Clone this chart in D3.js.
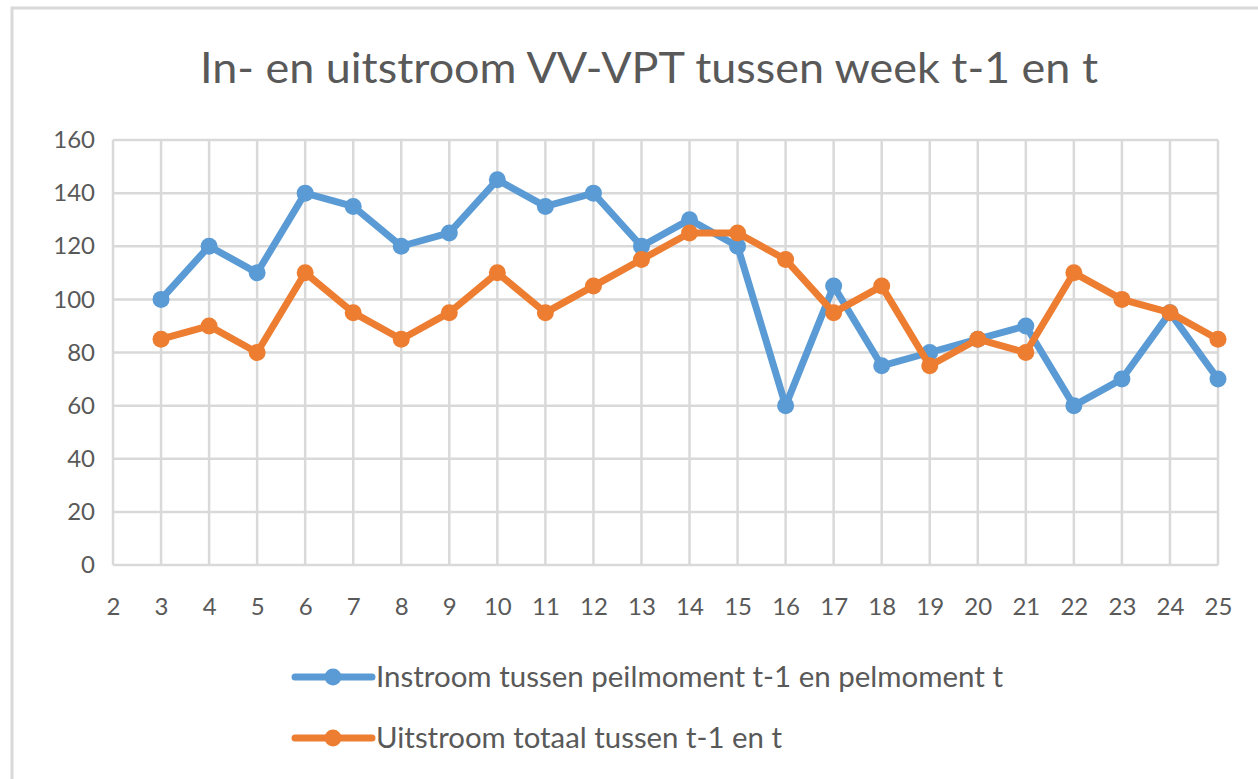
<!DOCTYPE html>
<html><head><meta charset="utf-8">
<script src="https://cdn.jsdelivr.net/npm/d3@7"></script>
<style>html,body{margin:0;padding:0;background:#fff;}svg{display:block;}</style>
</head><body>
<script>
const title = "In- en uitstroom VV-VPT tussen week t-1 en t";
const weeks = [2,3,4,5,6,7,8,9,10,11,12,13,14,15,16,17,18,19,20,21,22,23,24,25];
const dataWeeks = [3,4,5,6,7,8,9,10,11,12,13,14,15,16,17,18,19,20,21,22,23,24,25];
const instroom = [100,120,110,140,135,120,125,145,135,140,120,130,120,60,105,75,80,85,90,60,70,95,70];
const uitstroom = [85,90,80,110,95,85,95,110,95,105,115,125,125,115,95,105,75,85,80,110,100,95,85];
const yTicks = [0,20,40,60,80,100,120,140,160];
const seriesNames = ["Instroom tussen peilmoment t-1 en pelmoment t","Uitstroom totaal tussen t-1 en t"];
const colors = ["#5B9BD5","#ED7D31"];

const W=1258,H=779;
const svg=d3.select("body").append("svg").attr("width",W).attr("height",H);
const font="Lato, 'Open Sans', sans-serif";
svg.append("rect").attr("x",12).attr("y",8).attr("width",W).attr("height",H).attr("fill","#fff").attr("stroke","#d9d9d9").attr("stroke-width",3);

const x=d3.scalePoint().domain(weeks).range([113,1218]);
const y=d3.scaleLinear().domain([0,160]).range([565,140]);

svg.append("text").attr("x",649).attr("y",83).attr("text-anchor","middle")
  .attr("font-family",font).attr("font-size",42).attr("fill","#595959")
  .attr("textLength",898).attr("lengthAdjust","spacingAndGlyphs").text(title);

const g=svg.append("g");
g.selectAll(".hg").data(yTicks).join("line").attr("x1",113).attr("x2",1218)
  .attr("y1",d=>y(d)).attr("y2",d=>y(d)).attr("stroke","#d9d9d9").attr("stroke-width",2.5);
g.selectAll(".vg").data(weeks).join("line").attr("y1",y(0)).attr("y2",y(160))
  .attr("x1",d=>x(d)).attr("x2",d=>x(d)).attr("stroke","#d9d9d9").attr("stroke-width",2.5);

const yAxis=d3.axisLeft(y).tickValues(yTicks).tickSize(0).tickPadding(18);
const ya=svg.append("g").attr("transform","translate(113,0)").call(yAxis);
ya.select(".domain").remove();
ya.selectAll("text").attr("font-family",font).attr("font-size",24).attr("fill","#595959");
const xAxis=d3.axisBottom(x).tickSize(0).tickPadding(33);
const xa=svg.append("g").attr("transform","translate(0,565)").call(xAxis);
xa.select(".domain").remove();
xa.selectAll("text").attr("font-family",font).attr("font-size",24).attr("fill","#595959");

const series=[instroom,uitstroom];
const line=d3.line().x((d,i)=>x(dataWeeks[i])).y(d=>y(d));
series.forEach((s,k)=>{
  svg.append("path").datum(s).attr("d",line).attr("fill","none").attr("stroke",colors[k])
    .attr("stroke-width",7).attr("stroke-linejoin","round");
  svg.selectAll(".m"+k).data(s).join("circle").attr("cx",(d,i)=>x(dataWeeks[i])).attr("cy",d=>y(d))
    .attr("r",8.5).attr("fill",colors[k]);
});

const legY=[677,738];
const legLen=[627,406];
seriesNames.forEach((n,k)=>{
  svg.append("line").attr("x1",295).attr("x2",372).attr("y1",legY[k]).attr("y2",legY[k])
    .attr("stroke",colors[k]).attr("stroke-width",7).attr("stroke-linecap","round");
  svg.append("circle").attr("cx",333).attr("cy",legY[k]).attr("r",8.5).attr("fill",colors[k]);
  svg.append("text").attr("x",376).attr("y",legY[k]+10).attr("font-family",font).attr("font-size",28)
    .attr("textLength",legLen[k]).attr("lengthAdjust","spacingAndGlyphs")
    .attr("fill","#595959").text(n);
});
</script>
</body></html>
